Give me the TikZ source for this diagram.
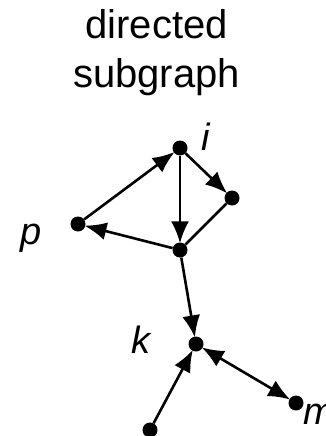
\documentclass[tikz,border=0pt]{standalone}
\usepackage{fontspec}
\setmainfont{Liberation Sans}
\usetikzlibrary{arrows.meta}

\begin{document}
\begin{tikzpicture}[x=1pt, y=-1pt,
  dot/.style={circle, fill, inner sep=0pt, minimum size=15pt},
  lbl/.style={font=\fontsize{38}{40}\selectfont\itshape, inner sep=0pt},
  ttl/.style={font=\fontsize{40}{48}\selectfont, inner sep=0pt, anchor=base},
  tip/.style={-{Latex[length=22pt, width=18pt]}},
  arr/.style={line width=2.6pt, tip, shorten >=-1pt}]
  \useasboundingbox (0,0) rectangle (325,436);
  \node[ttl] (t1) at (156.5,38) {directed};
  \node[ttl] (t2) at (156.5,88) {subgraph};

  \node[dot] (i) at (180,148) {};
  \node[dot] (r) at (232,198) {};
  \node[dot] (p) at (78,224) {};
  \node[dot] (c) at (180,250) {};
  \node[dot] (k) at (196,344) {};
  \node[dot] (b) at (150,430) {};
  \node[dot] (m) at (296,403) {};

  \node[lbl] (li) at (206,137) {i};
  \node[lbl] (lp) at (31,238) {p};
  \node[lbl] (lk) at (141,340) {k};
  \node[lbl] (lm) at (319,414) {m};

  \draw[arr] (p) -- (i);
  \draw[arr] (i) -- (c);
  \draw[arr] (i) -- (r);
  \draw[line width=2.6pt] (r) -- (c);
  \draw[arr] (c) -- (p);
  \draw[arr] (c) -- (k);
  \draw[arr] (b) -- (k);
  \draw[arr, {Latex[length=22pt, width=18pt]}-{Latex[length=22pt, width=18pt]}, shorten <=-1pt] (k) -- (m);
\end{tikzpicture}
\end{document}
